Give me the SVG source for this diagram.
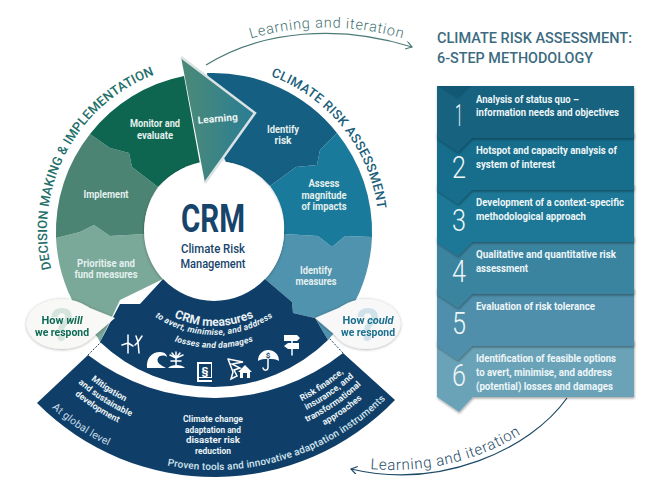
<svg xmlns="http://www.w3.org/2000/svg" width="662" height="497" viewBox="0 0 662 497">
<style>
text{font-family:Roboto,"Liberation Sans",sans-serif}
.lab{font-size:10px;font-weight:700;fill:#e4f0ee;text-anchor:middle}
.step{font-size:10px;font-weight:700;fill:#eef6f8}
.num{font-size:31px;font-weight:300;fill:#eef6f8;text-anchor:middle}
.band{filter:url(#sh)}
.nv{fill:#eaf2f6;font-weight:700;text-anchor:middle}
.ico{fill:#fff}
.icl{fill:none;stroke:#fff;stroke-width:1.5;stroke-linecap:round}
</style>
<defs>
<filter id="sh" x="-10%" y="-20%" width="120%" height="150%"><feDropShadow dx="0.5" dy="1.5" stdDeviation="1.2" flood-color="#000" flood-opacity=".35"/></filter>
<filter id="glow" x="-10%" y="-10%" width="120%" height="120%"><feDropShadow dx="0" dy="0.5" stdDeviation="1.5" flood-color="#000" flood-opacity=".35"/></filter>
<linearGradient id="tri" x1="0" y1="0" x2="1" y2="0"><stop offset="0" stop-color="#4c8a76"/><stop offset="1" stop-color="#2a7d96"/></linearGradient>
<path id="pDec" d="M62,300 A167,167 0 0 1 186,66"/>
<path id="pCli" d="M250,70 A165,165 0 0 1 379,231"/>
<path id="pTop" d="M240,42 Q326,13 414,42"/>
<path id="pBot" d="M360,468 C420,475 480,463 530,428"/>
<path id="a95" d="M119,231 A95,95 0 0 0 309,231"/>
<path id="a104" d="M110,231 A104,104 0 0 0 318,231"/>
<path id="a117" d="M97,231 A117,117 0 0 0 331,231"/>
<path id="b243" d="M-29,227 A243,243 0 0 0 457,227"/>
<path id="b196" d="M18,227 A196,196 0 0 0 410,227"/>
<path id="b207" d="M7,227 A207,207 0 0 0 421,227"/>
<path id="b218" d="M-4,227 A218,218 0 0 0 432,227"/>
<path id="b195" d="M19,227 A195,195 0 0 0 409,227"/>
<path id="b205" d="M9,227 A205,205 0 0 0 419,227"/>
<path id="b216" d="M-2,227 A216,216 0 0 0 430,227"/>
<path id="b227" d="M-13,227 A227,227 0 0 0 441,227"/>
<marker id="arT" markerWidth="10" markerHeight="10" refX="7" refY="4" orient="auto" markerUnits="userSpaceOnUse"><path d="M1,0 L7,4 L1,8" fill="none" stroke="#4a7a76" stroke-width="1.2"/></marker>
<marker id="arB" markerWidth="10" markerHeight="10" refX="7" refY="4" orient="auto" markerUnits="userSpaceOnUse"><path d="M1,0 L7,4 L1,8" fill="none" stroke="#1d4a66" stroke-width="1.2"/></marker>
</defs>
<rect width="662" height="497" fill="#fff"/>

<g id="connectors" fill="none">
<path d="M206,65 C262,30 340,24 412,47" stroke="#4a7a76" stroke-width="1.2" marker-end="url(#arT)"/>
<path d="M567,398 C530,450 440,490 351,469" stroke="#1d4a66" stroke-width="1.2" marker-end="url(#arB)"/>
<path d="M88,355 L102,341 M343,353 L329,338" stroke="#24465f" stroke-width="1" stroke-dasharray="2 1.5"/>
</g>
<text font-size="14.5" font-weight="300" fill="#3f7270" letter-spacing=".75" text-anchor="middle"><textPath href="#pTop" startOffset="50%">Learning and iteration</textPath></text>
<text font-size="15" font-weight="300" fill="#1d4a66" letter-spacing=".7" text-anchor="middle"><textPath href="#pBot" startOffset="50%">Learning and iteration</textPath></text>
<text font-size="13" font-weight="500" fill="#1f6f6a" letter-spacing=".1" text-anchor="middle"><textPath href="#pDec" startOffset="50%">DECISION MAKING &amp; IMPLEMENTATION</textPath></text>
<text font-size="13" font-weight="500" fill="#1c5f7c" letter-spacing=".35" text-anchor="middle"><textPath href="#pCli" startOffset="50%">CLIMATE RISK ASSESSMENT</textPath></text>

<g id="node-prioritise"><path d="M56,238 L80,232 L94,225 L110,236 L145,234 A70,70 0 0 0 163,279 L120,300 L100,342 L98,338 A158,158 0 0 1 56,238 Z" fill="#7aa899"/><text class="lab" x="106" y="267" textLength="58" lengthAdjust="spacingAndGlyphs">Prioritise and</text><text class="lab" x="106" y="278" textLength="63" lengthAdjust="spacingAndGlyphs">fund measures</text></g>
<g id="node-implement"><path d="M90,134 L110,148 L129,153 L132,167 L158,187 A70,70 0 0 0 145,234 L110,236 L94,225 L80,232 L56,238 A158,158 0 0 1 90,134 Z" fill="#4c8473"/><text class="lab" x="106" y="198" textLength="45" lengthAdjust="spacingAndGlyphs">Implement</text></g>
<g id="node-monitor"><path d="M90,134 A158,158 0 0 1 184,76 L200,164 A70,70 0 0 0 158,187 L132,167 L129,153 L110,148 Z" fill="#0e6651"/><text class="lab" x="155" y="127" textLength="50" lengthAdjust="spacingAndGlyphs">Monitor and</text><text class="lab" x="155" y="139" textLength="36" lengthAdjust="spacingAndGlyphs">evaluate</text></g>
<g id="node-identify-measures"><path d="M372,237 L345,236 L332,247 L318,236 L284,234 A70,70 0 0 1 265,279 L292,302 L293,313 L315,318 L328,340 A158,158 0 0 0 372,237 Z" fill="#5093ae"/><text class="lab" x="316" y="274" textLength="32" lengthAdjust="spacingAndGlyphs">Identify</text><text class="lab" x="316" y="285" textLength="41" lengthAdjust="spacingAndGlyphs">measures</text></g>
<g id="node-assess"><path d="M337,133 L320,150 L317,165 L296,167 L270,186 A70,70 0 0 1 284,234 L318,236 L332,247 L345,236 L372,237 A158,158 0 0 0 337,133 Z" fill="#1a7a9b"/><text class="lab" x="324" y="187" textLength="31" lengthAdjust="spacingAndGlyphs">Assess</text><text class="lab" x="324" y="199" textLength="45" lengthAdjust="spacingAndGlyphs">magnitude</text><text class="lab" x="324" y="210" textLength="45" lengthAdjust="spacingAndGlyphs">of impacts</text></g>
<g id="node-identify-risk"><path d="M207,73 A158,158 0 0 1 337,133 L320,150 L317,165 L296,167 L270,186 A70,70 0 0 0 226,162 L215,140 Z" fill="#155f82"/><text class="lab" x="283" y="133" textLength="32" lengthAdjust="spacingAndGlyphs">Identify</text><text class="lab" x="283" y="144" textLength="17" lengthAdjust="spacingAndGlyphs">risk</text></g>

<g id="node-center"><circle cx="214" cy="231" r="70" fill="#fff" filter="url(#glow)"/>
<text x="213" y="232" font-size="38" font-weight="700" fill="#17446b" text-anchor="middle" textLength="64" lengthAdjust="spacingAndGlyphs">CRM</text>
<text x="213" y="253" font-size="12.5" font-weight="500" fill="#17446b" text-anchor="middle" textLength="64" lengthAdjust="spacingAndGlyphs">Climate Risk</text>
<text x="213" y="268" font-size="12.5" font-weight="500" fill="#17446b" text-anchor="middle" textLength="65" lengthAdjust="spacingAndGlyphs">Management</text></g>

<g id="node-measures"><path d="M100,342 L120,304 L140,304 L163,279 A70,70 0 0 0 265,279 L292,302 L293,313 L315,318 L328,340 A164,164 0 0 1 100,342 Z" fill="#0f3f68"/>
<text class="nv" font-size="12"><textPath href="#a95" startOffset="50%">CRM measures</textPath></text>
<text class="nv" font-size="8.6" font-style="italic" letter-spacing=".25"><textPath href="#a104" startOffset="50%">to avert, minimise, and address</textPath></text>
<text class="nv" font-size="8.6" font-style="italic" letter-spacing=".2"><textPath href="#a117" startOffset="50%">losses and damages</textPath></text>
<g id="icons">
<path class="icl" d="M128,353 L128,343 M128,343 L122,345 M128,343 L128,335 M128,343 L133,346 M139,353 L138,342 M138,342 L135,345 M138,342 L136,336 M138,342 L142,336" stroke-width="1.2"/>
<path class="ico" d="M147,368 C146,358 152,352 160,352 C165,352 167,355 167,357 C164,355 160,355 158,358 C156,362 160,365 166,368 Z"/>
<path class="ico" d="M168,368 C171,364 182,364 185,368 Z"/>
<path class="icl" d="M176,365 L176,357 M176,358 L170,355 M176,358 L172,353 M176,358 L176,352 M176,358 L180,353 M176,358 L183,355 M171,361 L181,361" stroke-width="1.1"/>
<rect x="197" y="362" width="15" height="20" fill="#fff"/><rect x="199" y="364" width="12" height="13" fill="#0f3f68"/><rect x="199" y="378" width="13" height="2" fill="#0f3f68"/>
<text x="205" y="375" font-size="11" font-weight="700" fill="#fff" text-anchor="middle">§</text>
<path class="icl" d="M228,359 L243,362 L232,364 L240,368 L234,370 L237,376 L231,379 L233,372 L228,359" stroke-width="1"/>
<path class="ico" d="M245,365 L252,372 L250,372 L250,378 L247,378 L247,373 L243,373 L243,378 L240,378 L240,372 L238,372 Z"/>
<path class="ico" d="M258,361 C258,354 263,350 268,350 C274,350 279,354 279,361 C275,358 262,358 258,361 Z"/>
<path class="icl" d="M268,358 L268,367 C268,371 264,371 263,368" stroke-width="1.3"/>
<text x="268" y="358" font-size="8" font-weight="700" fill="#0f3f68" text-anchor="middle">$</text>
<path class="icl" d="M292,337 L292,355" stroke-width="1.6"/>
<path class="ico" d="M284,335 L297,335 L300,338 L297,341 L284,341 Z M299,343 L288,343 L284,346 L288,349 L299,349 Z"/>
</g></g>

<g id="node-band"><path d="M88,355 A207,207 0 0 0 343,353 L395,400 A250,250 0 0 1 37,403 Z" fill="#0f3f68"/>
<text class="nv" font-size="8.8"><textPath href="#b196" startOffset="31.7%">Mitigation</textPath></text>
<text class="nv" font-size="8.8"><textPath href="#b207" startOffset="32%">and sustainable</textPath></text>
<text class="nv" font-size="8.8"><textPath href="#b218" startOffset="31.7%">development</textPath></text>
<text class="nv" font-size="9.5" x="213" y="422" textLength="60" lengthAdjust="spacingAndGlyphs">Climate change</text>
<text class="nv" font-size="9.5" x="213" y="433" textLength="56" lengthAdjust="spacingAndGlyphs">adaptation and</text>
<text class="nv" font-size="9.5" x="213" y="443" textLength="54" lengthAdjust="spacingAndGlyphs">disaster risk</text>
<text class="nv" font-size="9.5" x="213" y="454" textLength="36" lengthAdjust="spacingAndGlyphs">reduction</text>
<text class="nv" font-size="8.8"><textPath href="#b195" startOffset="69%">Risk finance,</textPath></text>
<text class="nv" font-size="8.8"><textPath href="#b205" startOffset="69.4%">insurance, and</textPath></text>
<text class="nv" font-size="8.8"><textPath href="#b216" startOffset="69%">transformational</textPath></text>
<text class="nv" font-size="8.8"><textPath href="#b227" startOffset="69.4%">approaches</textPath></text>
<text font-size="10.5" fill="#c5dbe8" text-anchor="middle" letter-spacing=".2"><textPath href="#b243" startOffset="31.2%">At global level</textPath></text>
<text font-size="10" fill="#d3e5ee" font-weight="500" text-anchor="middle" letter-spacing=".15"><textPath href="#b243" startOffset="59.4%">Proven tools and innovative adaptation instruments</textPath></text>
</g>

<g id="node-learning"><path d="M181,57 L255,113 L205,183 Z" fill="url(#tri)"/><path d="M181,57 L255,113 L205,183" fill="none" stroke="#d9e3e3" stroke-width="2.5"/>
<text x="218" y="122" font-size="10" font-weight="700" fill="#f0f6f4" text-anchor="middle" transform="rotate(-5 218 122)" textLength="40" lengthAdjust="spacingAndGlyphs">Learning</text></g>

<g id="node-how-will" filter="url(#glow)"><path d="M80,304 L115,318 L88,341 Z" fill="#f8f8f6"/><ellipse cx="62" cy="324" rx="35.500" ry="25" fill="#f8f8f6"/>
<text x="62" y="341" font-size="46" font-weight="700" fill="#d5e4dd" text-anchor="middle">?</text>
<text x="62" y="324" font-size="11" font-weight="700" fill="#0e6a55" text-anchor="middle">How <tspan font-style="italic">will</tspan></text>
<text x="62" y="336" font-size="11" font-weight="700" fill="#0e6a55" text-anchor="middle" textLength="54" lengthAdjust="spacingAndGlyphs">we respond</text></g>
<g id="node-how-could" filter="url(#glow)"><path d="M348,304 L315,318 L342,341 Z" fill="#f8f8f8"/><ellipse cx="366" cy="324" rx="34.500" ry="25" fill="#f8f8f8"/>
<text x="368" y="341" font-size="46" font-weight="700" fill="#cfe2ea" text-anchor="middle">?</text>
<text x="368" y="324" font-size="11" font-weight="700" fill="#1a6f8e" text-anchor="middle">How <tspan font-style="italic">could</tspan></text>
<text x="368" y="336" font-size="11" font-weight="700" fill="#1a6f8e" text-anchor="middle" textLength="54" lengthAdjust="spacingAndGlyphs">we respond</text></g>

<g id="title" fill="#3c6b80" font-size="14.5" font-weight="500"><text x="437" y="43" textLength="195" lengthAdjust="spacingAndGlyphs">CLIMATE RISK ASSESSMENT:</text><text x="437" y="63" textLength="156" lengthAdjust="spacingAndGlyphs">6-STEP METHODOLOGY</text></g>

<g id="step-6"><path class="band" d="M437,340 L634,340 L634,397 L473,397 L459,412 L437,397 Z" fill="#6ba3b8"/><text class="num" x="459" y="386" textLength="14" lengthAdjust="spacingAndGlyphs">6</text><text class="step" x="476" y="362" textLength="140" lengthAdjust="spacingAndGlyphs">Identification of feasible options</text><text class="step" x="476" y="375.5" textLength="136" lengthAdjust="spacingAndGlyphs">to avert, minimise, and address</text><text class="step" x="476" y="389.5" textLength="137" lengthAdjust="spacingAndGlyphs">(potential) losses and damages</text></g>
<g id="step-5"><path class="band" d="M437,288 L634,288 L634,346 L472,346 L458,360 L437,346 Z" fill="#4f8fab"/><text class="num" x="459" y="334" textLength="14" lengthAdjust="spacingAndGlyphs">5</text><text class="step" x="476" y="310" textLength="119" lengthAdjust="spacingAndGlyphs">Evaluation of risk tolerance</text></g>
<g id="step-4"><path class="band" d="M437,236 L634,236 L634,294 L472,294 L458,308 L437,294 Z" fill="#3a84a0"/><text class="num" x="459" y="282" textLength="14" lengthAdjust="spacingAndGlyphs">4</text><text class="step" x="476" y="258" textLength="140" lengthAdjust="spacingAndGlyphs">Qualitative and quantitative risk</text><text class="step" x="476" y="271.5" textLength="52" lengthAdjust="spacingAndGlyphs">assessment</text></g>
<g id="step-3"><path class="band" d="M437,184 L634,184 L634,242 L472,242 L458,256 L437,242 Z" fill="#1c7896"/><text class="num" x="459" y="231" textLength="14" lengthAdjust="spacingAndGlyphs">3</text><text class="step" x="476" y="206" textLength="148" lengthAdjust="spacingAndGlyphs">Development of a context-specific</text><text class="step" x="476" y="219.5" textLength="110" lengthAdjust="spacingAndGlyphs">methodological approach</text></g>
<g id="step-2"><path class="band" d="M437,132 L634,132 L634,190 L472,190 L458,204 L437,190 Z" fill="#186d8c"/><text class="num" x="459" y="178" textLength="14" lengthAdjust="spacingAndGlyphs">2</text><text class="step" x="476" y="154" textLength="141" lengthAdjust="spacingAndGlyphs">Hotspot and capacity analysis of</text><text class="step" x="476" y="167.5" textLength="79" lengthAdjust="spacingAndGlyphs">system of interest</text></g>
<g id="step-1"><path class="band" d="M437,86 L634,86 L634,138 L472,138 L458,152 L437,138 Z" fill="#16627f"/><path d="M437,86 L458,99 L472,86 Z" fill="#125874"/><text class="num" x="459" y="126" textLength="8" lengthAdjust="spacingAndGlyphs">1</text><text class="step" x="476" y="102.5" textLength="103" lengthAdjust="spacingAndGlyphs">Analysis of status quo –</text><text class="step" x="476" y="115.5" textLength="143" lengthAdjust="spacingAndGlyphs">information needs and objectives</text></g>
</svg>
